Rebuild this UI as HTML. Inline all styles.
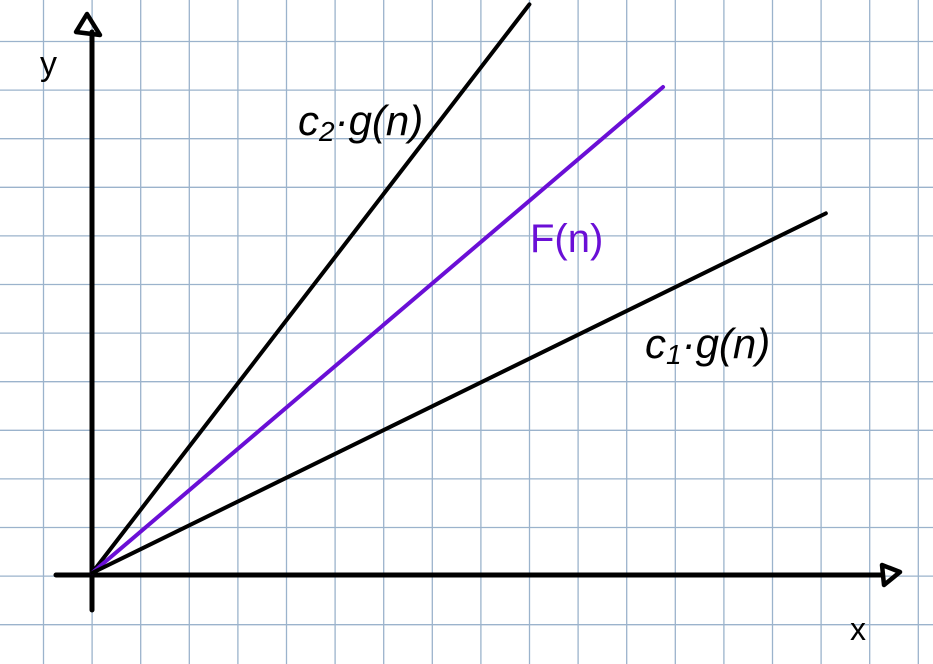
<!DOCTYPE html>
<html><head><meta charset="utf-8"><style>
html,body{margin:0;padding:0;background:#fff}
svg{display:block}
text{font-family:"Liberation Sans",sans-serif}
</style></head><body>
<svg id="chart" width="933" height="664" viewBox="0 0 933 664" xmlns="http://www.w3.org/2000/svg">
<g id="grid"></g>
<g id="axes">
  <line x1="92" y1="610" x2="92" y2="32" stroke="#000" stroke-width="5" stroke-linecap="round"/>
  <polygon points="87,14 76,32 100,35" fill="none" stroke="#000" stroke-width="4.5" stroke-linejoin="round"/>
  <line x1="56" y1="575" x2="882" y2="575" stroke="#000" stroke-width="5" stroke-linecap="round"/>
  <polygon points="882,565 900,572 884,585" fill="none" stroke="#000" stroke-width="4.5" stroke-linejoin="round"/>
  <text x="40" y="75" font-size="34">y</text>
  <text x="850" y="640" font-size="32">x</text>
</g>
<g id="series"></g>
<g id="labels">
  <text x="298" y="135" font-size="42" font-style="italic">c<tspan font-size="28" dy="6">2</tspan><tspan dy="-6">·g(n)</tspan></text>
  <text x="530" y="252" font-size="40" fill="#6a0fd6">F(n)</text>
  <text x="645" y="358" font-size="42" font-style="italic">c<tspan font-size="28" dy="6">1</tspan><tspan dy="-6">·g(n)</tspan></text>
</g>
</svg>
<script>
const seriesNames = ["c2-g-n", "f-n", "c1-g-n"];
const seriesEndX = [9.0, 11.75, 15.1];
const seriesEndY = [11.7, 10.0, 7.4];
const seriesColors = ["#000", "#6a0fd6", "#000"];

const ox = 92, oy = 573, cell = 48.6;
const sx = v => ox + v * cell;
const sy = v => oy - v * cell;
const NS = "http://www.w3.org/2000/svg";

const grid = document.getElementById("grid");
for (let i = 0; i < 20; i++) {
  const x = 43.5 + i * cell;
  const l = document.createElementNS(NS, "line");
  
  
  l.setAttribute("x1", x); l.setAttribute("x2", x);
  l.setAttribute("y1", 0); l.setAttribute("y2", 664);
  l.setAttribute("stroke", "#9bb3cc"); l.setAttribute("stroke-width", "1.3");
  grid.appendChild(l);
}
for (let i = -1; i < 14; i++) {
  const y = 41.5 + i * cell;
  const l = document.createElementNS(NS, "line");
  
  
  l.setAttribute("y1", y); l.setAttribute("y2", y);
  l.setAttribute("x1", 0); l.setAttribute("x2", 933);
  l.setAttribute("stroke", "#9bb3cc"); l.setAttribute("stroke-width", "1.3");
  grid.appendChild(l);
}
const sg = document.getElementById("series");
seriesNames.forEach((n, i) => {
  const l = document.createElementNS(NS, "line");
  
  
  l.setAttribute("x1", sx(0)); l.setAttribute("y1", sy(0));
  l.setAttribute("x2", sx(seriesEndX[i])); l.setAttribute("y2", sy(seriesEndY[i]));
  l.setAttribute("stroke", seriesColors[i]); l.setAttribute("stroke-width", "4");
  l.setAttribute("stroke-linecap", "round");
  sg.appendChild(l);
});
</script>
</body></html>
